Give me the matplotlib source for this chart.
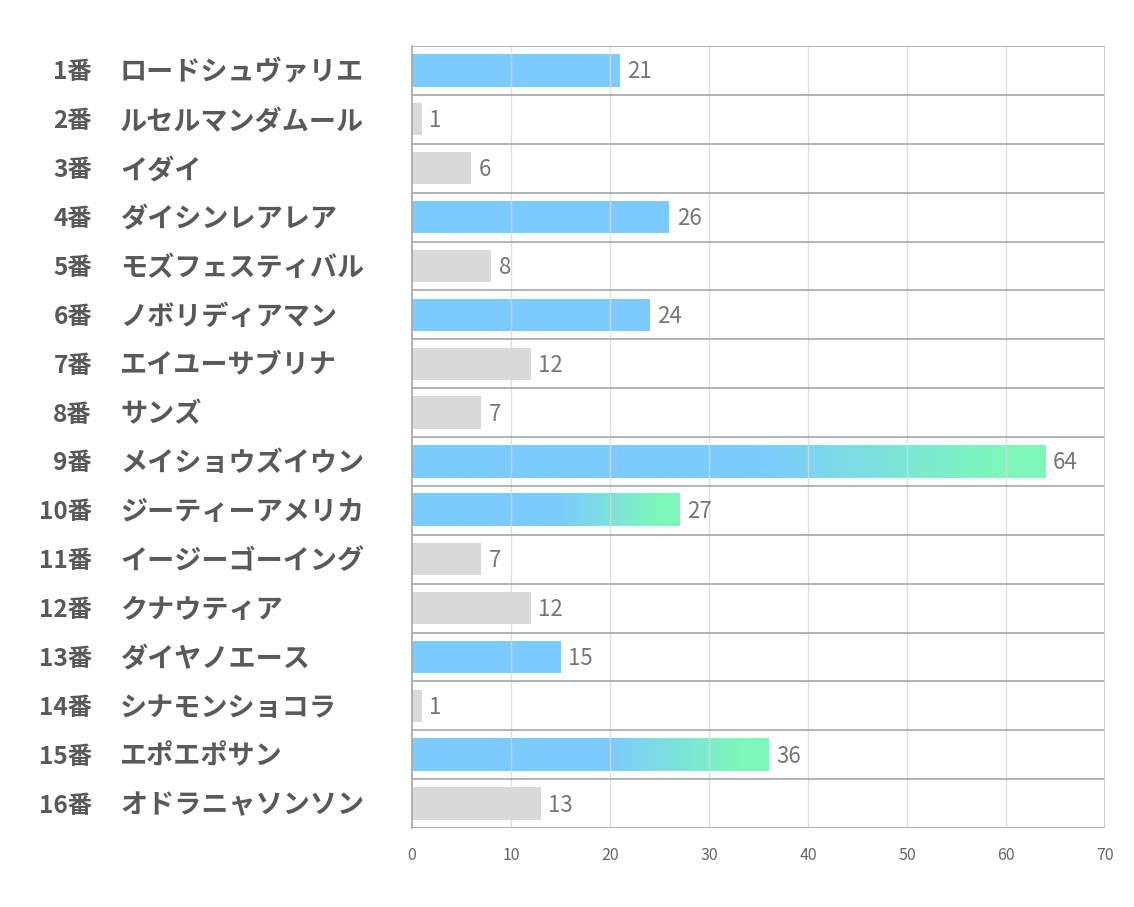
import matplotlib.pyplot as plt
import matplotlib.transforms as mtransforms
import numpy as np
from matplotlib.colors import LinearSegmentedColormap

plt.rcParams['font.family'] = ['Noto Sans CJK JP', 'DejaVu Sans']

numbers = ['1番', '2番', '3番', '4番', '5番', '6番', '7番', '8番',
           '9番', '10番', '11番', '12番', '13番', '14番', '15番', '16番']
names = ['ロードシュヴァリエ', 'ルセルマンダムール', 'イダイ', 'ダイシンレアレア',
         'モズフェスティバル', 'ノボリディアマン', 'エイユーサブリナ', 'サンズ',
         'メイショウズイウン', 'ジーティーアメリカ', 'イージーゴーイング', 'クナウティア',
         'ダイヤノエース', 'シナモンショコラ', 'エポエポサン', 'オドラニャソンソン']
values = [21, 1, 6, 26, 8, 24, 12, 7, 64, 27, 7, 12, 15, 1, 36, 13]
kinds = ['blue', 'gray', 'gray', 'blue', 'gray', 'blue', 'gray', 'gray',
         'grad', 'grad', 'gray', 'gray', 'blue', 'gray', 'grad', 'gray']

BLUE = '#7ccbfe'
GREEN = '#7df7bb'
GRAY = '#d9d9d9'


def main():
    fig = plt.figure(figsize=(11.34, 9.07), dpi=100)
    ax = fig.add_axes([412 / 1134, 1 - 828 / 907, 693 / 1134, 782 / 907])

    n = len(values)
    ys = np.arange(n)
    h = 0.66
    cmap = LinearSegmentedColormap.from_list(
        'bg', [(0, BLUE), (0.55, BLUE), (0.92, GREEN), (1, GREEN)])
    grad = np.linspace(0, 1, 256).reshape(1, -1)

    for y, v, k in zip(ys, values, kinds):
        if k == 'gray':
            ax.barh(y, v, height=h, color=GRAY, zorder=1)
        elif k == 'blue':
            ax.barh(y, v, height=h, color=BLUE, zorder=1)
        else:
            ax.imshow(grad, cmap=cmap, aspect='auto', zorder=1,
                      extent=(0, v, y + h / 2, y - h / 2), interpolation='bilinear')
        ax.text(v + 0.75, y + 0.03, str(v), va='center', ha='left', fontsize=16,
                color='#767676', zorder=4)

    ax.set_xlim(0, 70)
    ax.set_ylim(n - 0.5, -0.5)

    # grid: vertical light, horizontal row separators darker
    ax.set_xticks(range(0, 71, 10))
    ax.set_yticks([])
    for x in range(10, 71, 10):
        ax.axvline(x, color='#d9d9d9', lw=1, zorder=2, alpha=0.8)
    for b in np.arange(-0.5, n, 1.0):
        ax.axhline(b, color='#a6a6a6', lw=1.2, zorder=3)

    for s in ['top', 'bottom', 'right']:
        ax.spines[s].set_visible(False)
    ax.spines['left'].set_color('#a6a6a6')
    ax.spines['left'].set_linewidth(1.2)
    ax.spines['left'].set_zorder(3)
    ax.axvline(70, color='#c8c8c8', lw=1.2, zorder=3)

    ax.tick_params(axis='x', length=0, pad=14, labelsize=11.5, labelcolor='#666666')

    # row labels
    trans = mtransforms.blended_transform_factory(fig.transFigure, ax.transData)
    for y, num, name in zip(ys, numbers, names):
        ax.text(92 / 1134, y + 0.04, num, transform=trans, ha='right', va='center',
                fontsize=17.5, fontweight='bold', color='#595959')
        ax.text(120 / 1134, y + 0.04, name, transform=trans, ha='left', va='center',
                fontsize=19.5, fontweight='bold', color='#595959')

    fig.savefig('out.png', dpi=100)


if __name__ == '__main__':
    main()
